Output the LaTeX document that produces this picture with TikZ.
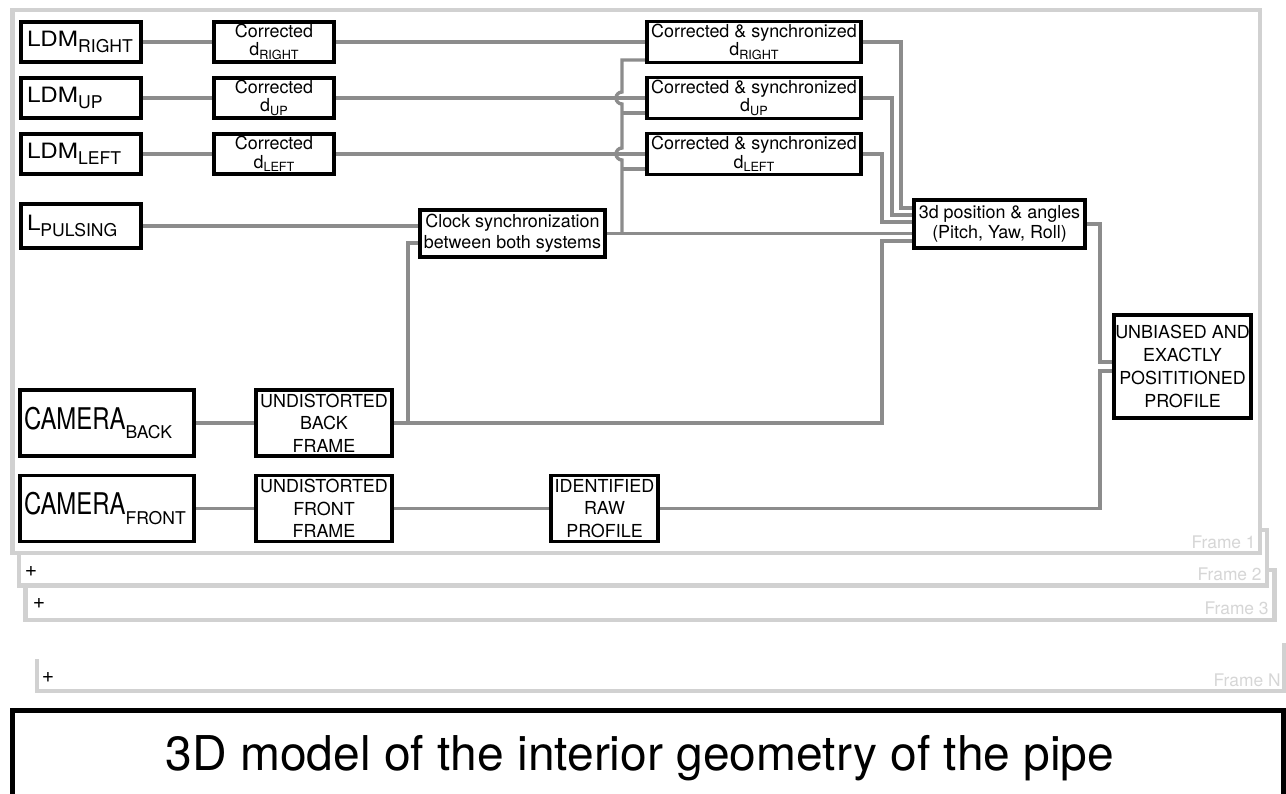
\documentclass[tikz,border=0pt]{standalone}
\usepackage{fontspec}
\setmainfont{TeX Gyre Heros}
\newfontfamily\widefont{TeX Gyre Heros}[FakeStretch=1.15]
\newfontfamily\narrowfont{TeX Gyre Heros}[FakeStretch=0.8]
\usetikzlibrary{backgrounds}

\newcommand{\lo}[1]{\raisebox{-0.6ex}{\normalfont\fontsize{10}{12}\selectfont #1}}
\newcommand{\dlo}[1]{d\raisebox{-0.4ex}{\normalfont\fontsize{7.2}{8}\selectfont #1}}

\tikzset{
  blk/.style={draw, line width=2.2pt, fill=white, inner sep=0pt, align=center,
    font=\fontsize{10.2}{11.5}\selectfont},
  ldmbox/.style={blk, align=left, text width=2.16cm, inner xsep=0.12cm, minimum height=0.8cm,
    font=\widefont\fontsize{12}{14}\selectfont},
  corbox/.style={blk, minimum width=2.4cm, minimum height=0.8cm},
  syncbox/.style={blk, minimum width=4.28cm, minimum height=0.82cm},
  cambox/.style={blk, align=left, text width=3.32cm, inner xsep=0.08cm, minimum height=1.32cm,
    font=\narrowfont\fontsize{17}{19}\selectfont},
  capsbox/.style={blk, font=\fontsize{10.2}{12.8}\selectfont, minimum height=1.32cm},
  wire/.style={draw=black!45, line width=1.9pt},
  frm/.style={draw=black!18, line width=2.8pt, fill=white},
  frmlbl/.style={text=black!16, font=\fontsize{9.9}{12}\selectfont, anchor=base east, inner sep=0pt},
  plus/.style={font=\fontsize{12}{14}\selectfont, inner sep=0pt},
}

\begin{document}
\begin{tikzpicture}[x=0.02cm, y=-0.02cm]
\useasboundingbox (0,0) rectangle (1286,794);

% stacked frames, back to front
\begin{pgfonlayer}{background}
\draw[frm, fill=none] (37,659) -- (37,691) -- (1284,691) -- (1284,643);
\draw[frm] (25.5,570) rectangle (1274.5,620);
\draw[frm] (19,530) rectangle (1267,585.5);
\draw[frm] (12.5,10) rectangle (1260,553);
\end{pgfonlayer}

\node[frmlbl] (f1) at (1256,548) {Frame 1};
\node[frmlbl] (f2) at (1262,580) {Frame 2};
\node[frmlbl] (f3) at (1269,614) {Frame 3};
\node[frmlbl] (fN) at (1281,686) {Frame N};
\node[plus] (p2) at (31,572) {+};
\node[plus] (p3) at (39,604) {+};
\node[plus] (pN) at (48,677) {+};

% sensors
\node[ldmbox] (ldmR) at (81,42) {LDM\lo{RIGHT}};
\node[ldmbox] (ldmU) at (81,98) {LDM\lo{UP}};
\node[ldmbox] (ldmL) at (81,154) {LDM\lo{LEFT}};
\node[ldmbox, minimum height=0.88cm] (lpuls) at (81,226) {L\lo{PULSING}};

\node[corbox] (corR) at (274,42) {Corrected\\[-1pt]\dlo{RIGHT}};
\node[corbox] (corU) at (274,98) {Corrected\\[-1pt]\dlo{UP}};
\node[corbox] (corL) at (274,154) {Corrected\\[-1pt]\dlo{LEFT}};

\node[syncbox] (syncR) at (754,42) {Corrected \& synchronized\\[-1pt]\dlo{RIGHT}};
\node[syncbox] (syncU) at (754,98) {Corrected \& synchronized\\[-1pt]\dlo{UP}};
\node[syncbox] (syncL) at (754,154) {Corrected \& synchronized\\[-1pt]\dlo{LEFT}};

\node[blk, font=\fontsize{10.2}{11.9}\selectfont, minimum width=3.7cm, minimum height=0.94cm]
  (clock) at (512.5,233.5) {Clock synchronization\\between both systems};
\node[blk, font=\fontsize{10.2}{11.3}\selectfont, minimum width=3.42cm, minimum height=0.96cm]
  (pos3d) at (999.5,224) {3d position \& angles\\(Pitch, Yaw, Roll)};
\node[blk, font=\fontsize{10.2}{13.2}\selectfont, minimum width=2.74cm, minimum height=2.06cm]
  (unb) at (1182.5,366.5) {UNBIASED AND\\EXACTLY\\POSITITIONED\\PROFILE};

% cameras
\node[cambox] (camB) at (107,423) {CAMERA\lo{BACK}};
\node[cambox] (camF) at (107,508.5) {CAMERA\lo{FRONT}};
\node[capsbox, minimum width=2.72cm] (undB) at (324,423) {UNDISTORTED\\BACK\\FRAME};
\node[capsbox, minimum width=2.72cm] (undF) at (324,508.5) {UNDISTORTED\\FRONT\\FRAME};
\node[capsbox, minimum width=2.14cm] (ident) at (604.5,508.5) {IDENTIFIED\\RAW\\PROFILE};

% result
\node[draw, line width=2.8pt, minimum width=25.41cm, minimum height=1.9cm, inner sep=0pt,
  font=\fontsize{27.3}{32}\selectfont] (model) at (648,758)
  {3D model of the interior geometry of the pipe\hspace*{0.32cm}};

\coordinate (busR) at (622,60);
\coordinate (busU) at (622,113);
\coordinate (busL) at (622,169);
\coordinate (kR) at (901,208);
\coordinate (kU) at (892,215);
\coordinate (kL) at (882,222);
\coordinate (kB) at (882,241);
\coordinate (kC) at (408,243);
\coordinate (kP) at (1100,362);
\coordinate (kI) at (1100,371);

\begin{pgfonlayer}{background}
\draw[wire] (ldmR) -- (corR);
\draw[wire] (ldmU) -- (corU);
\draw[wire] (ldmL) -- (corL);
\draw[wire] (corR) -- (syncR);
\draw[wire] (corU) -- (syncU);
\draw[wire] (corL) -- (syncL);
\draw[wire] (lpuls.east) -- (lpuls.east -| clock.west);
\draw[wire] (clock.east) -- (clock.east -| pos3d.west);
% bus jumps over the d lines
\draw[wire] (clock.east -| busR) -- (622,160) arc[start angle=270, end angle=90, radius=0.12cm]
  -- (622,104) arc[start angle=270, end angle=90, radius=0.12cm] -- (busR) -- (busR -| syncR.west);
\draw[wire] (busU) -- (busU -| syncU.west);
\draw[wire] (busL) -- (busL -| syncL.west);
\draw[wire] (syncR.east) -| (kR) -- (kR -| pos3d.west);
\draw[wire] (syncU.east) -| (kU) -- (kU -| pos3d.west);
\draw[wire] (syncL.east) -| (kL) -- (kL -| pos3d.west);
\draw[wire] (camB) -- (undB);
\draw[wire] (undB) -| (kB) -- (kB -| pos3d.west);
\draw[wire] (kC |- undB) -- (kC) -- (kC -| clock.west);
\draw[wire] (camF) -- (undF);
\draw[wire] (undF) -- (ident);
\draw[wire] (pos3d.east) -| (kP) -- (kP -| unb.west);
\draw[wire] (ident) -| (kI) -- (kI -| unb.west);
\end{pgfonlayer}
\end{tikzpicture}
\end{document}
